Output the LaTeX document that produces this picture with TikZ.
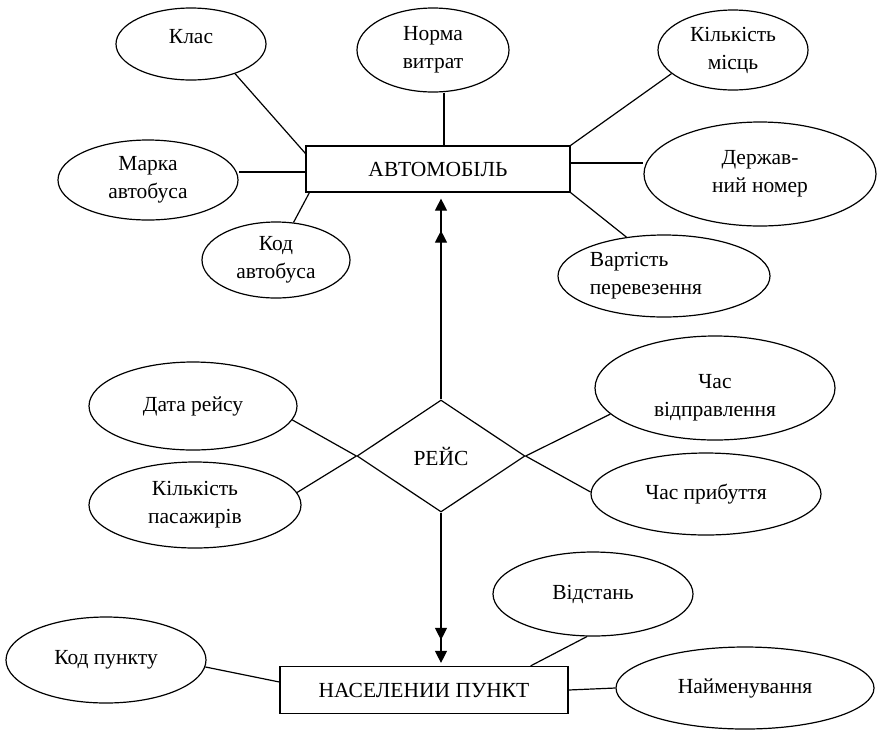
\documentclass[tikz,border=0pt]{standalone}
\usepackage{fontspec}
\setmainfont{Liberation Serif}
\usetikzlibrary{shapes.geometric,arrows.meta}
\begin{document}
\begin{tikzpicture}[x=1pt,y=-1pt,
  line width=1.2pt,
  every node/.style={font=\fontsize{21.5}{28}\selectfont, align=center, inner sep=0pt},
  attr/.style={draw, ellipse},
  ent/.style={draw, rectangle},
  rel/.style={draw, diamond},
  dbltop/.style={-{Triangle[length=12pt,width=12pt,sep=20pt]Triangle[length=12pt,width=12pt]}},
  dblbot/.style={-{Triangle[length=12pt,width=12pt,sep=11pt]Triangle[length=12pt,width=12pt]}}
]
\useasboundingbox (0,0) rectangle (877,729);

\node[attr, minimum width=150pt, minimum height=72pt] (kl) at (191,44) {Клас\rule[-15pt]{0pt}{0pt}};
\node[attr, minimum width=152pt, minimum height=84pt] (nv) at (433,50) {Норма\\витрат};
\node[attr, minimum width=150pt, minimum height=80pt] (km) at (733,50) {Кількість\\місць};
\node[ent, minimum width=264pt, minimum height=46pt] (avto) at (438,169) {АВТОМОБІЛЬ};
\node[attr, minimum width=180pt, minimum height=80pt] (ma) at (148,180) {Марка\\автобуса};
\node[attr, minimum width=148pt, minimum height=76pt] (ka) at (276,260) {Код\\автобуса};
\node[attr, minimum width=232pt, minimum height=104pt] (dn) at (760,174) {Держав-\\ний номер};
\node[attr, minimum width=212pt, minimum height=82pt, align=left] (vp) at (664,276) {Вартість\\перевезення\rule{36pt}{0pt}};

\node[rel, minimum width=168pt, minimum height=112pt] (rs) at (441,456) {РЕЙС};
\node[attr, minimum width=208pt, minimum height=88pt] (dr) at (193,406) {Дата рейсу};
\node[attr, minimum width=212pt, minimum height=86pt] (kp) at (195,505) {Кількість\\пасажирів};
\node[attr, minimum width=240pt, minimum height=104pt] (cv) at (715,388) {\rule{0pt}{34pt}Час\\відправлення};
\node[attr, minimum width=230pt, minimum height=82pt] (cp) at (706,494) {Час прибуття};

\node[ent, minimum width=288pt, minimum height=47pt] (np) at (424,690) {НАСЕЛЕНИИ ПУНКТ};
\node[attr, minimum width=200pt, minimum height=84pt] (vd) at (593,594) {Відстань};
\node[attr, minimum width=200pt, minimum height=86pt] (kpu) at (106,660) {Код пункту};
\node[attr, minimum width=258pt, minimum height=82pt] (nm) at (745,688) {Найменування};

\draw (kl.-34) -- ([yshift=-8pt]avto.north west);
\draw ([xshift=11pt]nv.south) -- ([xshift=6pt]avto.north);
\draw (km.-159) -- (avto.north east);
\draw ([yshift=6pt]avto.east) -- ([yshift=6pt]avto.east -| dn.west);
\draw (vp.134) -- (avto.south east);
\draw ([yshift=-3pt]avto.west) -- ([yshift=-3pt]avto.west -| ma.east);
\draw (ka.65) -- ([xshift=4pt]avto.south west);
\draw[dbltop, shorten >=6pt] (rs.north) -- (rs.north |- avto.south);

\draw (dr.-8) -- (rs.west);
\draw (kp.7) -- (rs.west);
\draw (cv.-166) -- (rs.east);
\draw (cp.179) -- (rs.east);
\draw[dblbot, shorten >=3pt] (rs.south) -- (rs.south |- np.north);

\draw (vd.-98) -- ([xshift=-38pt]np.north east);
\draw (kpu.-4) -- ([yshift=8pt]np.west);
\draw (np.east) -- (nm.west);
\end{tikzpicture}
\end{document}
